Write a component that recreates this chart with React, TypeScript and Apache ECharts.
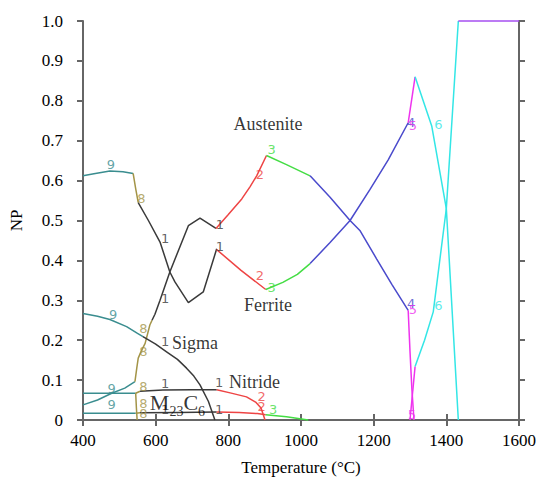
import React, { useEffect, useRef } from "react";
import * as echarts from "echarts";

// ---- curve segments [Temperature °C, NP] ----
// upper-left (9 -> 8 -> 1 -> 2 -> 3 -> 4 -> 5 -> 6)
const ferrite9 = [[400, 0.612], [430, 0.617], [474, 0.624], [510, 0.622], [538, 0.618]];
const ferrite8 = [[538, 0.618], [545, 0.58], [552, 0.545]];
const ferrite1 = [[552, 0.545], [580, 0.5], [612, 0.446], [639, 0.371], [653, 0.346], [690, 0.294], [731, 0.321], [768, 0.429]];
const ferrite2 = [[768, 0.427], [835, 0.375], [903, 0.327]];
const ferrite3 = [[903, 0.327], [950, 0.345], [990, 0.365], [1025, 0.392]];
const ferrite4 = [[1025, 0.392], [1080, 0.445], [1135, 0.5], [1190, 0.578], [1240, 0.652], [1295, 0.745]];
const ferrite5 = [[1295, 0.745], [1314, 0.86]];
const ferrite6 = [[1314, 0.86], [1360, 0.736], [1400, 0.53], [1433, 0]];

// rising curve (9 -> 8 -> 1 -> 2 -> 3 -> 4 -> 5)
const aust9 = [[400, 0.038], [440, 0.05], [479, 0.067], [515, 0.08], [543, 0.096]];
const aust8 = [[543, 0.096], [548, 0.13], [552, 0.155], [560, 0.172], [571, 0.192], [584, 0.238], [590, 0.25]];
const aust1 = [[590, 0.25], [598, 0.265], [612, 0.3], [639, 0.371], [690, 0.487], [722, 0.506], [766, 0.48]];
const aust2 = [[766, 0.48], [800, 0.515], [837, 0.554], [860, 0.585], [878, 0.612], [905, 0.663]];
const aust3 = [[905, 0.663], [960, 0.64], [1025, 0.612]];
const aust4 = [[1025, 0.612], [1080, 0.558], [1135, 0.5], [1162, 0.475], [1208, 0.404], [1250, 0.34], [1295, 0.275]];
const aust5 = [[1295, 0.275], [1300, 0.172], [1305, 0.08], [1311, 0]];

// liquid (5 -> 6 -> 7)
const liquid5 = [[1300, 0], [1314, 0.134]];
const liquid6 = [[1314, 0.134], [1340, 0.2], [1364, 0.271], [1400, 0.53], [1433, 1.0]];
const liquid7 = [[1433, 1.0], [1600, 1.0]];

// sigma
const sigma9 = [[400, 0.267], [440, 0.26], [474, 0.252], [520, 0.234], [550, 0.217], [565, 0.209]];
const sigma1 = [[565, 0.209], [600, 0.19], [630, 0.171], [660, 0.152], [685, 0.13], [705, 0.11], [722, 0.088], [745, 0.047], [763, 0]];

// nitride
const nitride9 = [[400, 0.067], [545, 0.067]];
const nitride8 = [[545, 0.067], [557, 0.072]];
const nitride1 = [[557, 0.072], [620, 0.075], [700, 0.076], [768, 0.076]];
const nitride2 = [[768, 0.076], [805, 0.068], [850, 0.058], [875, 0.045], [890, 0.03], [901, 0]];

// M23C6
const carbide9 = [[400, 0.017], [545, 0.017]];
const carbide8 = [[545, 0.017], [557, 0.018]];
const carbide1 = [[557, 0.018], [660, 0.019], [768, 0.02]];
const carbide2 = [[768, 0.02], [830, 0.019], [880, 0.016], [903, 0.013]];
const carbide3 = [[903, 0.013], [960, 0.008], [1020, 0]];

// short vanishing segment
const vanish8 = [[545, 0.067], [547, 0.03], [549, 0]];

// ---- region number labels [T, NP, text] ----
const labels9 = [[477, 0.641, "9"], [483, 0.264, "9"], [479, 0.08, "9"], [479, 0.038, "9"]];
const labels8 = [[561, 0.554, "8"], [566, 0.229, "8"], [566, 0.171, "8"], [566, 0.084, "8"], [566, 0.042, "8"], [566, 0.017, "8"]];
const labels1 = [[626, 0.454, "1"], [626, 0.304, "1"], [626, 0.196, "1"], [626, 0.092, "1"], [626, 0.026, "1"], [777, 0.49, "1"], [777, 0.434, "1"], [775, 0.095, "1"], [775, 0.026, "1"]];
const labels2 = [[887, 0.616, "2"], [887, 0.362, "2"], [892, 0.058, "2"], [892, 0.035, "2"]];
const labels3 = [[919, 0.678, "3"], [919, 0.333, "3"], [923, 0.027, "3"]];
const labels4 = [[1303, 0.745, "4"], [1303, 0.292, "4"]];
const labels5 = [[1308, 0.738, "5"], [1308, 0.278, "5"], [1305, 0.013, "5"]];
const labels6 = [[1378, 0.741, "6"], [1378, 0.288, "6"]];

// ---- phase names [T, NP, text] ----
const phaseNamesCentered = [
  [909, 0.741, "Austenite"],
  [909, 0.289, "Ferrite"],
];
const phaseNamesLeft = [
  [645, 0.192, "Sigma"],
  [802, 0.095, "Nitride"],
];
const carbideName = [[584, 0.043, "M23C6"]];

const xTicks = [400, 600, 800, 1000, 1200, 1400, 1600];
const yTicks = [0, 0.1, 0.2, 0.3, 0.4, 0.5, 0.6, 0.7, 0.8, 0.9, 1.0];

const C = {
  teal: "#3a8d8f",
  olive: "#a39447",
  black: "#3a3a3a",
  red: "#ee4444",
  green: "#44dd44",
  blue: "#4a4acc",
  magenta: "#ee33ee",
  cyan: "#33e6e6",
  violet: "#a64ff0",
};

const SERIF = "'Liberation Serif', 'Times New Roman', serif";

export default function App() {
  const ref = useRef<HTMLDivElement>(null);
  useEffect(() => {
    if (!ref.current) return;
    const chart = echarts.init(ref.current, undefined, { renderer: "svg" });

    const segs: [number[][], string][] = [
      [ferrite9, C.teal], [ferrite8, C.olive], [ferrite1, C.black], [ferrite2, C.red], [ferrite3, C.green], [ferrite4, C.blue], [ferrite5, C.magenta], [ferrite6, C.cyan],
      [aust9, C.teal], [aust8, C.olive], [aust1, C.black], [aust2, C.red], [aust3, C.green], [aust4, C.blue], [aust5, C.magenta],
      [liquid5, C.magenta], [liquid6, C.cyan], [liquid7, C.violet],
      [sigma9, C.teal], [sigma1, C.black],
      [nitride9, C.teal], [nitride8, C.olive], [nitride1, C.black], [nitride2, C.red],
      [carbide9, C.teal], [carbide8, C.olive], [carbide1, C.black], [carbide2, C.red], [carbide3, C.green],
      [vanish8, C.olive],
    ];

    const lineSeries = segs.map(([data, color]) => ({
      type: "line",
      data,
      showSymbol: false,
      symbol: "none",
      clip: false,
      z: 3,
      lineStyle: { color, width: 1.5 },
    }));

    const labelGroups: [any[], string][] = [
      [labels9, C.teal], [labels8, C.olive], [labels1, C.black], [labels2, C.red], [labels3, C.green],
      [labels4, C.blue], [labels5, C.magenta], [labels6, C.cyan],
    ];
    const labelSeries = labelGroups.map(([data, color]) => ({
      type: "scatter",
      data,
      symbolSize: 0,
      z: 4,
      silent: true,
      label: {
        show: true,
        position: "inside",
        formatter: (p: any) => p.data[2],
        color,
        fontFamily: "'DejaVu Sans', sans-serif",
        fontSize: 13,
      },
    }));

    const nameLabel = {
      show: true,
      position: "inside",
      formatter: (p: any) => p.data[2],
      color: "#000",
      fontFamily: SERIF,
      fontSize: 18,
    };
    const nameSeriesCenter = {
      type: "scatter",
      data: phaseNamesCentered,
      symbolSize: 0,
      z: 5,
      silent: true,
      label: { ...nameLabel, align: "center" },
    };
    const nameSeriesLeft = {
      type: "scatter",
      data: phaseNamesLeft,
      symbolSize: 0,
      z: 5,
      silent: true,
      label: { ...nameLabel, align: "left" },
    };
    const carbideSeries = {
      type: "scatter",
      data: carbideName,
      symbolSize: 0,
      z: 5,
      silent: true,
      label: {
        show: true,
        position: "inside",
        align: "left",
        formatter: () => "{m|M}{s|23}{m|C}{s|6}",
        rich: {
          m: { fontFamily: SERIF, fontSize: 22, color: "#000", verticalAlign: "bottom" },
          s: { fontFamily: SERIF, fontSize: 14, color: "#000", verticalAlign: "bottom", padding: [0, 0, -5, 0] },
        },
      },
    };

    const axisLine = { show: true, lineStyle: { color: "#666", width: 2 } };
    const axisTick = { show: true, inside: false, length: 6, lineStyle: { color: "#666", width: 2 } };

    chart.setOption({
      animation: false,
      grid: { left: 83, right: 22, top: 21, bottom: 59, containLabel: false },
      xAxis: [
        {
          type: "value",
          min: 400,
          max: 1600,
          interval: 200,
          position: "bottom",
          name: "Temperature (°C)",
          nameLocation: "middle",
          nameGap: 39,
          nameTextStyle: { fontFamily: SERIF, fontSize: 17, color: "#000" },
          axisLine,
          axisTick,
          splitLine: { show: false },
          axisLabel: {
            fontFamily: SERIF,
            fontSize: 17,
            color: "#000",
            margin: 12,
            formatter: (v: number) => (xTicks.includes(v) ? String(v) : ""),
          },
        },
        {
          type: "value",
          min: 400,
          max: 1600,
          interval: 200,
          position: "top",
          axisLine,
          axisTick,
          axisLabel: { show: false },
          splitLine: { show: false },
        },
      ],
      yAxis: [
        {
          type: "value",
          min: 0,
          max: 1,
          interval: 0.1,
          position: "left",
          name: "NP",
          nameLocation: "middle",
          nameGap: 58,
          nameRotate: 90,
          nameTextStyle: { fontFamily: SERIF, fontSize: 17, color: "#000" },
          axisLine,
          axisTick,
          splitLine: { show: false },
          axisLabel: {
            fontFamily: SERIF,
            fontSize: 17,
            color: "#000",
            margin: 20,
            formatter: (v: number) => {
              const t = yTicks.find((y) => Math.abs(y - v) < 1e-6);
              if (t === undefined) return "";
              return t === 0 ? "0" : t.toFixed(1);
            },
          },
        },
        {
          type: "value",
          min: 0,
          max: 1,
          interval: 0.1,
          position: "right",
          axisLine,
          axisTick,
          axisLabel: { show: false },
          splitLine: { show: false },
        },
      ],
      series: [...lineSeries, ...labelSeries, nameSeriesCenter, nameSeriesLeft, carbideSeries],
    });
    return () => chart.dispose();
  }, []);
  return (
    <div
      ref={ref}
      style={{ position: "fixed", left: 0, top: 0, width: 541, height: 481, background: "#fff" }}
    />
  );
}
